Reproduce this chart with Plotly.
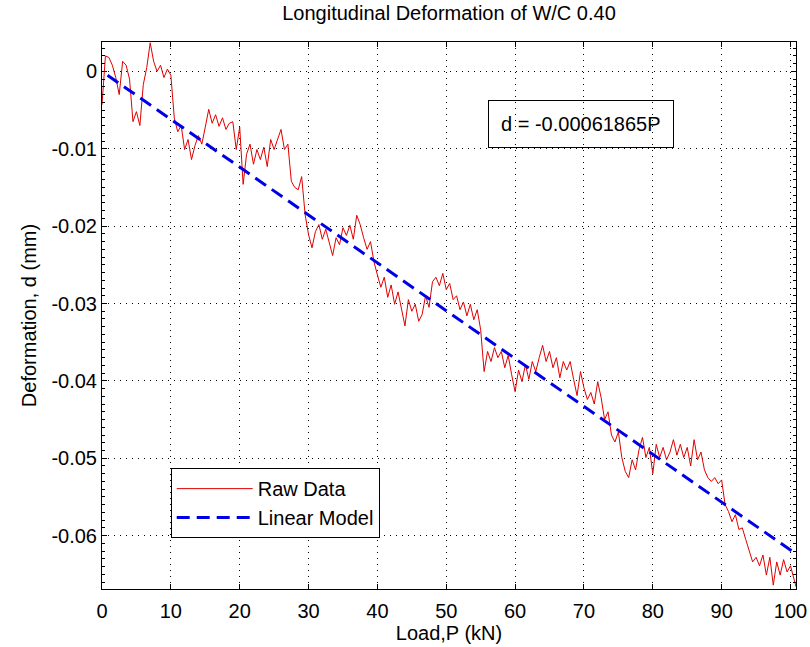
import plotly.graph_objects as go

# ---- data ----
load_kN = [
    0.0, 0.5, 1.0, 1.5, 2.0, 2.5, 3.0, 3.5, 4.0, 4.5,
    5.0, 5.5, 6.0, 6.5, 7.0, 7.5, 8.0, 8.5, 9.0, 9.5,
    10.0, 10.5, 11.0, 11.5, 12.0, 12.5, 13.0, 13.5, 14.0, 14.5,
    15.0, 15.5, 16.0, 16.5, 17.0, 17.5, 18.0, 18.5, 19.0, 19.5,
    20.0, 20.5, 21.0, 21.5, 22.0, 22.5, 23.0, 23.5, 24.0, 24.5,
    25.0, 25.5, 26.0, 26.5, 27.0, 27.5, 28.0, 28.5, 29.0, 29.5,
    30.0, 30.5, 31.0, 31.5, 32.0, 32.5, 33.0, 33.5, 34.0, 34.5,
    35.0, 35.5, 36.0, 36.5, 37.0, 37.5, 38.0, 38.5, 39.0, 39.5,
    40.0, 40.5, 41.0, 41.5, 42.0, 42.5, 43.0, 43.5, 44.0, 44.5,
    45.0, 45.5, 46.0, 46.5, 47.0, 47.5, 48.0, 48.5, 49.0, 49.5,
    50.0, 50.5, 51.0, 51.5, 52.0, 52.5, 53.0, 53.5, 54.0, 54.5,
    55.0, 55.5, 56.0, 56.5, 57.0, 57.5, 58.0, 58.5, 59.0, 59.5,
    60.0, 60.5, 61.0, 61.5, 62.0, 62.5, 63.0, 63.5, 64.0, 64.5,
    65.0, 65.5, 66.0, 66.5, 67.0, 67.5, 68.0, 68.5, 69.0, 69.5,
    70.0, 70.5, 71.0, 71.5, 72.0, 72.5, 73.0, 73.5, 74.0, 74.5,
    75.0, 75.5, 76.0, 76.5, 77.0, 77.5, 78.0, 78.5, 79.0, 79.5,
    80.0, 80.5, 81.0, 81.5, 82.0, 82.5, 83.0, 83.5, 84.0, 84.5,
    85.0, 85.5, 86.0, 86.5, 87.0, 87.5, 88.0, 88.5, 89.0, 89.5,
    90.0, 90.5, 91.0, 91.5, 92.0, 92.5, 93.0, 93.5, 94.0, 94.5,
    95.0, 95.5, 96.0, 96.5, 97.0, 97.5, 98.0, 98.5, 99.0, 99.5,
    100.0, 100.5, 100.8,
]

raw_deformation_mm = [
    -0.0043, 0.0020, 0.0018, 0.0008, -0.0008, -0.0030, 0.0013, 0.0008, -0.0010, -0.0065,
    -0.0052, -0.0070, -0.0017, 0.0005, 0.0037, 0.0013, 0.0000, 0.0008, -0.0008, 0.0003,
    -0.0005, -0.0060, -0.0078, -0.0070, -0.0101, -0.0088, -0.0114, -0.0096, -0.0083, -0.0094,
    -0.0072, -0.0049, -0.0067, -0.0056, -0.0071, -0.0060, -0.0075, -0.0067, -0.0065, -0.0101,
    -0.0072, -0.0146, -0.0107, -0.0094, -0.0120, -0.0101, -0.0114, -0.0098, -0.0123, -0.0088,
    -0.0101, -0.0088, -0.0075, -0.0101, -0.0094, -0.0142, -0.0150, -0.0153, -0.0136, -0.0185,
    -0.0211, -0.0228, -0.0207, -0.0198, -0.0217, -0.0204, -0.0220, -0.0238, -0.0215, -0.0224,
    -0.0202, -0.0212, -0.0199, -0.0217, -0.0186, -0.0198, -0.0215, -0.0230, -0.0220, -0.0246,
    -0.0263, -0.0279, -0.0266, -0.0292, -0.0276, -0.0301, -0.0285, -0.0308, -0.0329, -0.0295,
    -0.0310, -0.0301, -0.0323, -0.0314, -0.0290, -0.0305, -0.0272, -0.0266, -0.0277, -0.0261,
    -0.0282, -0.0274, -0.0295, -0.0290, -0.0308, -0.0298, -0.0316, -0.0301, -0.0321, -0.0308,
    -0.0334, -0.0388, -0.0362, -0.0375, -0.0357, -0.0370, -0.0362, -0.0383, -0.0367, -0.0392,
    -0.0414, -0.0386, -0.0401, -0.0379, -0.0398, -0.0375, -0.0388, -0.0370, -0.0354, -0.0375,
    -0.0362, -0.0383, -0.0370, -0.0396, -0.0375, -0.0386, -0.0375, -0.0398, -0.0419, -0.0388,
    -0.0409, -0.0424, -0.0415, -0.0430, -0.0401, -0.0422, -0.0450, -0.0440, -0.0470, -0.0479,
    -0.0466, -0.0499, -0.0517, -0.0525, -0.0502, -0.0515, -0.0489, -0.0473, -0.0499, -0.0486,
    -0.0520, -0.0482, -0.0499, -0.0486, -0.0502, -0.0492, -0.0476, -0.0496, -0.0482, -0.0499,
    -0.0486, -0.0510, -0.0476, -0.0502, -0.0492, -0.0515, -0.0525, -0.0530, -0.0525, -0.0533,
    -0.0528, -0.0560, -0.0569, -0.0582, -0.0573, -0.0592, -0.0590, -0.0605, -0.0621, -0.0634,
    -0.0628, -0.0639, -0.0625, -0.0651, -0.0628, -0.0664, -0.0634, -0.0651, -0.0631, -0.0647,
    -0.0639, -0.0657, -0.0666,
]

model_slope = -0.00061865          # d = -0.00061865 P
model_load = [0.8, 100.8]
model_deformation = [model_slope * p for p in model_load]

x_tick_vals = [0, 10, 20, 30, 40, 50, 60, 70, 80, 90, 100]
x_tick_text = ["0", "10", "20", "30", "40", "50", "60", "70", "80", "90", "100"]
y_tick_vals = [0, -0.01, -0.02, -0.03, -0.04, -0.05, -0.06]
y_tick_text = ["0", "-0.01", "-0.02", "-0.03", "-0.04", "-0.05", "-0.06"]

FONT = "Liberation Sans, Arial, sans-serif"

fig = go.Figure()
fig.add_trace(go.Scatter(
    x=load_kN, y=raw_deformation_mm, mode="lines", name="Raw Data",
    line=dict(color="#e00000", width=1),
))
fig.add_trace(go.Scatter(
    x=model_load, y=model_deformation, mode="lines", name="Linear Model",
    line=dict(color="#0000e6", width=3, dash="13px,7px"),
))

axis_common = dict(
    showline=True, linecolor="black", linewidth=1, mirror="ticks",
    ticks="inside", ticklen=5, tickcolor="black", tickwidth=1,
    showgrid=True, gridcolor="black", gridwidth=1, griddash="1px,5px",
    zeroline=False, automargin=False,
    tickfont=dict(family=FONT, size=20, color="black"),
)

fig.update_xaxes(
    range=[0, 100.8], tickvals=x_tick_vals, ticktext=x_tick_text,
    title=dict(text="Load,P (kN)", font=dict(family=FONT, size=20, color="black"), standoff=2),
    ticklabelstandoff=4,
    **axis_common,
)
fig.update_yaxes(
    range=[-0.0669, 0.0038], tickvals=y_tick_vals, ticktext=y_tick_text,
    title=dict(text="Deformation, d (mm)", font=dict(family=FONT, size=20, color="black"), standoff=9),
    ticklabelstandoff=0,
    minor=dict(ticks="inside", ticklen=3, dtick=0.001, tickcolor="black", showgrid=False),
    **axis_common,
)

fig.add_annotation(
    x=0.690, y=0.851, xref="paper", yref="paper", xanchor="center", yanchor="middle",
    text="d = -0.00061865P", showarrow=False,
    font=dict(family=FONT, size=20, color="black"),
    bordercolor="black", borderwidth=1, borderpad=12,
)

fig.update_layout(
    width=810, height=647,
    margin=dict(l=102, r=14, t=42, b=58),
    paper_bgcolor="white", plot_bgcolor="white",
    title=dict(text="Longitudinal Deformation of W/C 0.40", x=0.5, xref="paper",
               y=1 - 13 / 647, yref="container", xanchor="center", yanchor="middle",
               font=dict(family=FONT, size=20, color="black")),
    legend=dict(x=0.099, y=0.221, xanchor="left", yanchor="top",
                bgcolor="white", bordercolor="black", borderwidth=1,
                font=dict(family=FONT, size=20, color="black"),
                itemwidth=76, tracegroupgap=0),
    showlegend=True,
)

fig.write_html("out.html", config={"displayModeBar": False},
               post_script="document.body.style.margin='0px';")
